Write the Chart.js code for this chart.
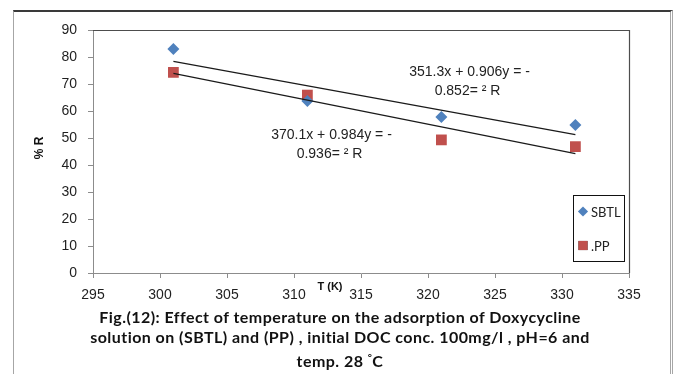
<!DOCTYPE html>
<html>
<head>
<meta charset="utf-8">
<script src="https://cdn.jsdelivr.net/npm/chart.js@4.4.1/dist/chart.umd.min.js"></script>
<style>
    html, body { margin: 0; padding: 0; background: #fff; }
    #wrap { position: relative; width: 680px; height: 374px; overflow: hidden; }
    #frame {
        position: absolute; left: 13px; top: 10px; width: 656px; height: 380px;
        border-top: 2px solid #3a3a3a; border-left: 1px solid #a6a6a6; border-right: 3px double #a6a6a6;
    }
    canvas { position: absolute; left: 0; top: 0; }
    #caption {
        position: absolute; left: 0; top: 307px; width: 680px; text-align: center;
        font: bold 16px Lato, "Open Sans", sans-serif; letter-spacing: 0.45px;
        line-height: 20px; color: #111;
    }
</style>
</head>
<body>
<div id="wrap">
    <div id="frame"></div>
    <canvas id="chartTemp" width="680" height="374"></canvas>
    <div id="caption">Fig.(12): Effect of temperature on the adsorption of Doxycycline<br>
        solution on (SBTL) and (PP) , initial DOC conc. 100mg/l , pH=6 and<br>
        temp. 28 <span style="font-size:10px;vertical-align:6px">°</span>C</div>
</div>
<script>
// Data
const temps = [301, 311, 321, 331];          // T (K)
const sbtlR = [83, 63.7, 57.8, 54.8];        // % R, SBTL
const ppR = [74.3, 65.9, 49.3, 46.8];        // % R, PP
const seriesNames = ['SBTL', '.PP'];
const sbtlEq = ['351.3x + 0.906y = -', '0.852= \u00b2 R'];
const ppEq = ['370.1x + 0.984y = -', '0.936= \u00b2 R'];

const blue = '#4F81BD';
const red = '#C0504D';
const tickFont = { family: '"Liberation Sans", Arial, sans-serif', size: 14 };

// least squares line through a series, returned at first / last x
function trendLine(xs, ys) {
    const n = xs.length;
    const mx = xs.reduce((a, b) => a + b, 0) / n;
    const my = ys.reduce((a, b) => a + b, 0) / n;
    let sxy = 0, sxx = 0;
    for (let i = 0; i < n; i++) {
        sxy += (xs[i] - mx) * (ys[i] - my);
        sxx += (xs[i] - mx) * (xs[i] - mx);
    }
    const m = sxy / sxx;
    const b = my - m * mx;
    return [xs[0], xs[n - 1]].map(x => ({ x: x, y: m * x + b }));
}

const toPoints = (xs, ys) => xs.map((x, i) => ({ x: x, y: ys[i] }));

// text + legend + plot border drawn on top
const extras = {
    id: 'extras',
    afterDraw(chart) {
        const ctx = chart.ctx;
        const xs = chart.scales.x, ys = chart.scales.y;
        const area = chart.chartArea;
        ctx.save();

        // plot area border (top, right)
        ctx.strokeStyle = '#4d4d4d';
        ctx.lineWidth = 1.2;
        ctx.beginPath();
        ctx.moveTo(area.left, area.top + 0.5);
        ctx.lineTo(area.right + 0.5, area.top + 0.5);
        ctx.lineTo(area.right + 0.5, area.bottom);
        ctx.stroke();

        // trend line equations
        ctx.fillStyle = '#222';
        ctx.font = '14px "Liberation Sans", Arial, sans-serif';
        ctx.textAlign = 'center';
        ctx.textBaseline = 'middle';
        const eqs = [[sbtlEq, 323.1, 74.4], [ppEq, 312.8, 51.1]];
        eqs.forEach(([lines, vx, vy]) => {
            const px = xs.getPixelForValue(vx), py = ys.getPixelForValue(vy);
            ctx.fillText(lines[0], px, py);
            ctx.fillText(lines[1], px - 2, py + 19);
        });

        // axis titles
        ctx.font = 'bold 11px "Liberation Sans", Arial, sans-serif';
        ctx.fillStyle = '#111';
        ctx.fillText('T (K)', 330, 287);
        ctx.save();
        ctx.translate(40, 148);
        ctx.rotate(-Math.PI / 2);
        ctx.font = 'bold 12px "Liberation Sans", Arial, sans-serif';
        ctx.fillText('% R', 0, 0);
        ctx.restore();

        // legend box
        const lx = 573, ly = 195, lw = 51, lh = 66;
        ctx.fillStyle = '#fff';
        ctx.fillRect(lx, ly, lw, lh);
        ctx.strokeStyle = '#111';
        ctx.lineWidth = 1;
        ctx.strokeRect(lx + 0.5, ly + 0.5, lw, lh);
        ctx.textAlign = 'left';
        ctx.font = '13px Lato, sans-serif';
        const rows = [[211.5, 0], [245.5, 1]];
        rows.forEach(([ry, di]) => {
            const ds = chart.data.datasets[di];
            Chart.helpers.drawPoint(ctx, {
                pointStyle: ds.pointStyle, radius: ds.pointRadius * 0.85, rotation: 0,
                borderWidth: 0
            }, 583, ry);
            ctx.fillStyle = ds.backgroundColor;
            ctx.fill();
            ctx.fillStyle = '#222';
            ctx.fillText(ds.label, 591, ry + 1);
        });
        ctx.restore();
    }
};

new Chart(document.getElementById('chartTemp').getContext('2d'), {
    type: 'scatter',
    data: {
        datasets: [{
            label: seriesNames[0],
            data: toPoints(temps, sbtlR),
            pointStyle: 'rectRot',
            pointRadius: 6,
            backgroundColor: blue,
            borderColor: blue,
            borderWidth: 0,
            order: 1
        }, {
            label: seriesNames[1],
            data: toPoints(temps, ppR),
            pointStyle: 'rect',
            pointRadius: 7.6,
            backgroundColor: red,
            borderColor: red,
            borderWidth: 0,
            order: 2
        }, {
            label: 'SBTL trend',
            data: trendLine(temps, sbtlR),
            type: 'line',
            showLine: true,
            pointRadius: 0,
            borderColor: '#1a1a1a',
            borderWidth: 1.2,
            fill: false,
            order: 0
        }, {
            label: 'PP trend',
            data: trendLine(temps, ppR),
            type: 'line',
            showLine: true,
            pointRadius: 0,
            borderColor: '#1a1a1a',
            borderWidth: 1.2,
            fill: false,
            order: 0
        }]
    },
    options: {
        responsive: false,
        animation: false,
        layout: { padding: { left: 0, top: 30, right: 51, bottom: 0 } },
        plugins: {
            legend: { display: false },
            tooltip: { enabled: false }
        },
        scales: {
            x: {
                type: 'linear',
                min: 295, max: 335,
                afterFit: s => { s.height = 101; },
                ticks: { stepSize: 5, padding: 9, color: '#1f1f1f', font: tickFont },
                grid: { drawOnChartArea: false, tickLength: 5, color: '#8c8c8c' },
                border: { color: '#8c8c8c' }
            },
            y: {
                min: 0, max: 90,
                afterFit: s => { s.width = 93; },
                ticks: { stepSize: 10, padding: 11, color: '#1f1f1f', font: tickFont },
                grid: { drawOnChartArea: false, tickLength: 5, color: '#8c8c8c' },
                border: { color: '#8c8c8c' }
            }
        }
    },
    plugins: [extras]
});
</script>
</body>
</html>
